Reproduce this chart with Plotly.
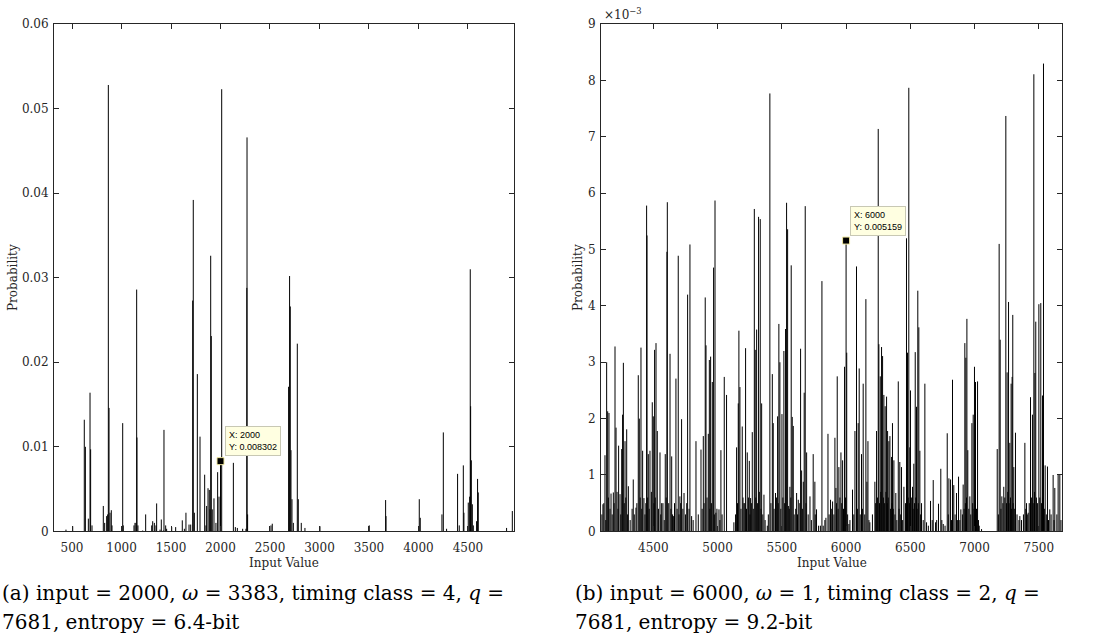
import plotly.graph_objects as go

# ---------------- Data: panel (a) ----------------
a_input = [439, 507, 624, 635, 665, 682, 688, 702, 816, 830, 850, 860, 867, 874, 884, 897, 904,
           1012, 1018, 1126, 1136, 1146, 1153, 1156, 1166, 1214, 1244, 1305, 1315, 1332, 1348, 1355,
           1389, 1402, 1422, 1429, 1446, 1456, 1507, 1547, 1614, 1635, 1651, 1682, 1699, 1719, 1725,
           1736, 1766, 1793, 1840, 1853, 1860, 1874, 1887, 1894, 1901, 1907, 1917, 1934, 1954, 1971,
           1985, 2000, 2012, 2130, 2150, 2170, 2224, 2257, 2266, 2268, 2274, 2510, 2523, 2688, 2698,
           2705, 2712, 2722, 2736, 2776, 2786, 2816, 2853, 3005, 3503, 3668, 3672, 4008, 4018, 4237,
           4251, 4284, 4395, 4412, 4453, 4459, 4503, 4517, 4523, 4527, 4534, 4544, 4554, 4587, 4597,
           4604, 4890, 4948]
a_prob = [0.0002, 0.0006, 0.0132, 0.0100, 0.0015, 0.0164, 0.0097, 0.0007, 0.0030, 0.0010, 0.0018,
          0.0020, 0.0528, 0.0146, 0.0022, 0.0025, 0.0007, 0.0128, 0.0007, 0.0007, 0.0010, 0.0010,
          0.0286, 0.0111, 0.0007, 0.0001, 0.0020, 0.0007, 0.0012, 0.0010, 0.0007, 0.0033, 0.0002,
          0.0014, 0.0001, 0.0120, 0.0007, 0.0003, 0.0005, 0.0005, 0.0013, 0.0003, 0.0022, 0.0008,
          0.0008, 0.0273, 0.0392, 0.0022, 0.0186, 0.0112, 0.0067, 0.0007, 0.0030, 0.0051, 0.0049,
          0.0026, 0.0326, 0.0231, 0.0026, 0.0039, 0.0010, 0.0070, 0.0041, 0.008302, 0.0523, 0.0081,
          0.0005, 0.0004, 0.0003, 0.0003, 0.0288, 0.0466, 0.0020, 0.0007, 0.0009, 0.0171, 0.0302,
          0.0266, 0.0096, 0.0038, 0.0010, 0.0222, 0.0038, 0.0010, 0.0004, 0.0006, 0.0007, 0.0037,
          0.0018, 0.0038, 0.0016, 0.0020, 0.0117, 0.0003, 0.0068, 0.0007, 0.0078, 0.0022, 0.0034,
          0.0041, 0.0310, 0.0148, 0.0084, 0.0032, 0.0007, 0.0012, 0.0062, 0.0046, 0.0004, 0.0024]

# ---------------- Data: panel (b) (probabilities in units of 1e-3) ----------------
b_peak_input = [4108, 4124, 4137, 4145, 4155, 4171, 4189, 4202, 4210, 4230, 4241, 4254, 4261, 4267,
                4280, 4293, 4306, 4344, 4365, 4383, 4391, 4404, 4417, 4427, 4448, 4451, 4461, 4474,
                4492, 4500, 4510, 4521, 4531, 4552, 4565, 4593, 4606, 4609, 4630, 4643, 4656, 4676,
                4694, 4707, 4720, 4739, 4767, 4785, 4798, 4832, 4871, 4889, 4904, 4910, 4928, 4936,
                4946, 4959, 4969, 4980, 4987, 5011, 5026, 5052, 5070, 5127, 5148, 5161, 5166, 5174,
                5192, 5205, 5218, 5231, 5247, 5257, 5270, 5286, 5293, 5304, 5319, 5332, 5343, 5361,
                5387, 5407, 5426, 5433, 5451, 5467, 5477, 5485, 5501, 5516, 5529, 5537, 5545, 5553,
                5563, 5573, 5581, 5589, 5615, 5628, 5646, 5654, 5667, 5674, 5682, 5693, 5719, 5744,
                5757, 5770, 5786, 5812, 5822, 5843, 5859, 5879, 5895, 5913, 5921, 5931, 5944, 5960,
                5973, 5988, 6000, 6005, 6022, 6050, 6069, 6081, 6094, 6102, 6120, 6133, 6154, 6162,
                6170, 6185, 6224, 6237, 6250, 6255, 6266, 6276, 6284, 6294, 6304, 6315, 6323, 6333,
                6341, 6354, 6361, 6372, 6387, 6406, 6418, 6431, 6450, 6470, 6478, 6488, 6496, 6501,
                6517, 6527, 6538, 6548, 6558, 6566, 6574, 6587, 6613, 6626, 6657, 6678, 6696, 6719,
                6737, 6756, 6787, 6800, 6813, 6828, 6838, 6859, 6875, 6893, 6911, 6924, 6932, 6940,
                6947, 6963, 6979, 6989, 6999, 7007, 7023, 7036, 7054, 7176, 7191, 7199, 7212, 7227,
                7243, 7253, 7264, 7274, 7284, 7292, 7297, 7305, 7318, 7352, 7391, 7404, 7417, 7435,
                7450, 7461, 7469, 7476, 7500, 7515, 7528, 7536, 7549, 7567, 7585, 7611, 7624, 7650,
                7663]
b_peak_prob = [0.48, 1.35, 3.00, 2.13, 2.10, 0.67, 0.69, 3.28, 1.84, 1.52, 0.66, 1.46, 2.07, 2.99,
               1.60, 1.81, 0.80, 0.92, 0.42, 2.77, 2.00, 3.26, 1.43, 0.59, 5.78, 5.25, 1.37, 1.43,
               2.29, 2.04, 3.22, 3.34, 1.78, 1.40, 0.50, 1.37, 4.96, 5.84, 3.15, 1.33, 0.27, 2.71,
               4.89, 0.62, 1.99, 0.68, 4.20, 5.09, 0.27, 1.60, 1.45, 1.69, 4.15, 3.30, 1.73, 3.04,
               3.10, 2.65, 4.68, 5.87, 0.33, 0.39, 1.44, 2.74, 2.42, 0.16, 1.49, 2.27, 3.56, 2.56,
               1.86, 0.50, 3.25, 1.40, 1.25, 0.59, 1.76, 5.72, 3.22, 3.58, 5.58, 5.54, 2.27, 0.65,
               0.10, 7.77, 2.79, 1.92, 0.68, 2.04, 3.68, 3.00, 2.08, 3.20, 3.59, 5.83, 5.36, 0.45,
               0.79, 4.72, 2.03, 1.87, 0.68, 0.56, 3.24, 1.08, 0.88, 2.46, 5.77, 1.40, 0.62, 1.37,
               0.88, 0.39, 0.10, 4.44, 0.10, 0.24, 1.73, 0.56, 0.53, 1.66, 0.77, 2.75, 1.14, 1.40,
               1.26, 2.92, 5.159, 3.17, 0.13, 0.74, 1.78, 4.70, 1.92, 2.89, 1.37, 2.62, 4.12, 0.88,
               1.60, 0.16, 0.88, 1.78, 7.14, 3.32, 2.75, 3.27, 3.11, 2.42, 2.22, 2.39, 1.78, 1.60,
               1.69, 1.32, 1.92, 1.26, 0.68, 2.66, 1.23, 1.14, 0.79, 5.20, 3.17, 7.87, 1.49, 2.50,
               0.79, 1.20, 3.18, 2.21, 4.27, 3.62, 1.43, 0.50, 2.62, 0.16, 0.54, 0.91, 0.16, 0.49,
               1.11, 0.13, 1.74, 0.94, 0.92, 2.69, 0.82, 0.68, 0.97, 0.39, 0.83, 3.34, 3.08, 3.77,
               1.44, 0.62, 1.92, 2.07, 2.92, 2.65, 2.66, 0.10, 0.04, 1.46, 5.10, 3.40, 0.62, 0.79,
               7.37, 2.82, 4.07, 1.57, 2.62, 2.74, 3.84, 1.14, 1.75, 0.27, 1.57, 0.50, 0.33, 2.38,
               2.07, 8.11, 2.81, 3.72, 4.03, 4.05, 2.41, 8.30, 1.17, 1.15, 0.39, 1.00, 0.77, 1.00,
               1.00]

b_floor_input = [4100, 4115, 4130, 4150, 4163, 4180, 4195, 4218, 4225, 4247, 4274, 4286, 4300, 4320,
                 4335, 4352, 4372, 4398, 4410, 4435, 4442, 4456, 4468, 4485, 4505, 4515, 4540, 4558,
                 4575, 4585, 4600, 4620, 4637, 4650, 4665, 4685, 4700, 4713, 4730, 4750, 4760, 4778,
                 4810, 4850, 4880, 4895, 4918, 4940, 4952, 4975, 4995, 5018, 5035, 5140, 5155, 5182,
                 5198, 5212, 5225, 5240, 5252, 5265, 5278, 5298, 5310, 5325, 5338, 5352, 5370, 5395,
                 5415, 5440, 5458, 5472, 5492, 5508, 5522, 5558, 5570, 5596, 5608, 5622, 5640, 5660,
                 5688, 5705, 5730, 5760, 5800, 5835, 5868, 5888, 5905, 5926, 5938, 5952, 5966, 5980,
                 5995, 6012, 6030, 6060, 6088, 6110, 6127, 6145, 6178, 6205, 6230, 6244, 6260, 6270,
                 6290, 6300, 6310, 6320, 6328, 6345, 6357, 6367, 6380, 6395, 6412, 6425, 6440, 6462,
                 6483, 6492, 6508, 6522, 6532, 6543, 6553, 6562, 6580, 6600, 6640, 6670, 6705, 6745,
                 6770, 6795, 6820, 6848, 6866, 6885, 6905, 6918, 6928, 6937, 6955, 6970, 6985, 6995,
                 7003, 7015, 7030, 7185, 7205, 7220, 7235, 7248, 7258, 7268, 7279, 7288, 7300, 7312,
                 7330, 7345, 7365, 7380, 7398, 7410, 7425, 7442, 7456, 7466, 7481, 7490, 7507, 7521,
                 7532, 7543, 7558, 7575, 7595, 7618, 7640, 7672]
b_floor_prob = [0.3, 0.5, 0.2, 0.6, 0.4, 0.3, 0.5, 0.7, 0.4, 0.3, 0.5, 0.6, 0.3, 0.2,
                0.4, 0.3, 0.5, 0.6, 0.4, 0.3, 0.5, 0.6, 0.4, 0.7, 0.5, 0.6, 0.4, 0.3,
                0.5, 0.2, 0.6, 0.5, 0.4, 0.3, 0.5, 0.4, 0.3, 0.5, 0.4, 0.3, 0.5, 0.4,
                0.2, 0.3, 0.4, 0.5, 0.6, 0.4, 0.5, 0.3, 0.4, 0.2, 0.3, 0.3, 0.5, 0.4,
                0.6, 0.5, 0.4, 0.6, 0.3, 0.5, 0.4, 0.6, 0.5, 0.7, 0.4, 0.3, 0.2, 0.3,
                0.5, 0.4, 0.6, 0.5, 0.4, 0.6, 0.5, 0.4, 0.6, 0.3, 0.4, 0.3, 0.5, 0.4,
                0.5, 0.3, 0.2, 0.3, 0.1, 0.2, 0.3, 0.4, 0.3, 0.5, 0.4, 0.6, 0.5, 0.4,
                0.6, 0.3, 0.2, 0.3, 0.4, 0.3, 0.4, 0.3, 0.2, 0.3, 0.5, 0.6, 0.5, 0.7,
                0.6, 0.5, 0.7, 0.5, 0.6, 0.4, 0.5, 0.4, 0.3, 0.2, 0.4, 0.3, 0.2, 0.5,
                0.6, 0.5, 0.6, 0.4, 0.5, 0.6, 0.4, 0.5, 0.3, 0.2, 0.1, 0.2, 0.2, 0.2,
                0.1, 0.3, 0.2, 0.3, 0.2, 0.2, 0.3, 0.4, 0.5, 0.6, 0.4, 0.3, 0.5, 0.4,
                0.3, 0.4, 0.2, 0.3, 0.4, 0.5, 0.6, 0.5, 0.7, 0.5, 0.6, 0.4, 0.5, 0.4,
                0.3, 0.2, 0.2, 0.3, 0.4, 0.3, 0.5, 0.6, 0.5, 0.7, 0.6, 0.5, 0.6, 0.5,
                0.6, 0.4, 0.3, 0.2, 0.3, 0.2, 0.3, 0.2]

a_tip = (2000, 0.008302)
b_tip = (6000, 0.005159)

a_xticks = [500, 1000, 1500, 2000, 2500, 3000, 3500, 4000, 4500]
a_yticks = [0, 0.01, 0.02, 0.03, 0.04, 0.05, 0.06]
a_yticklabels = ["0", "0.01", "0.02", "0.03", "0.04", "0.05", "0.06"]
b_xticks = [4500, 5000, 5500, 6000, 6500, 7000, 7500]
b_yticks = [0, 1, 2, 3, 4, 5, 6, 7, 8, 9]
b_yticklabels = ["0", "1", "2", "3", "4", "5", "6", "7", "8", "9"]

caption_a = ["(a) input = 2000, <i>ω</i> = 3383, timing class = 4, <i>q</i> =",
             "7681, entropy = 6.4-bit"]
caption_b = ["(b) input = 6000, <i>ω</i> = 1, timing class = 2, <i>q</i> =",
             "7681, entropy = 9.2-bit"]

# ---------------- Figure ----------------
W, H = 1099, 643
SERIF = "DejaVu Serif"
AXC = "#262626"


def stems(xs, ys, scale=1.0):
    sx, sy = [], []
    for x, y in zip(xs, ys):
        sx += [x, x, None]
        sy += [0, y * scale, None]
    return sx, sy


fig = go.Figure()

ax, ay = stems(a_input, a_prob)
fig.add_trace(go.Scatter(x=ax, y=ay, mode="lines", line=dict(color="black", width=1),
                         xaxis="x", yaxis="y", hoverinfo="skip"))

bx, by = stems(b_floor_input + b_peak_input, b_floor_prob + b_peak_prob, 1e-3)
fig.add_trace(go.Scatter(x=bx, y=by, mode="lines", line=dict(color="black", width=1),
                         xaxis="x2", yaxis="y2", hoverinfo="skip"))

# data-tip markers
for tip, xr, yr in [(a_tip, "x", "y"), (b_tip, "x2", "y2")]:
    fig.add_trace(go.Scatter(x=[tip[0]], y=[tip[1]], mode="markers",
                             marker=dict(symbol="square", size=7, color="black",
                                         line=dict(color="#f0e8a0", width=1)),
                             xaxis=xr, yaxis=yr))

ydom = [1 - 536 / H, 1 - 17.5 / H]
common_axis = dict(showline=True, linecolor=AXC, linewidth=1, mirror="ticks", ticks="inside",
                   ticklen=5, tickcolor=AXC, showgrid=False, zeroline=False,
                   tickfont=dict(family=SERIF, size=12, color=AXC))

fig.update_layout(
    width=W, height=H, margin=dict(l=0, r=0, t=0, b=0),
    paper_bgcolor="white", plot_bgcolor="white", showlegend=False,
    xaxis=dict(domain=[54 / W, 514 / W], range=[318, 4965], tickvals=a_xticks, anchor="y",
               ticklabelstandoff=5, **common_axis),
    yaxis=dict(domain=ydom, range=[0, 0.06], tickvals=a_yticks, ticktext=a_yticklabels,
               anchor="x", ticklabelstandoff=2, **common_axis),
    xaxis2=dict(domain=[601 / W, 1062 / W], range=[4093, 7680], tickvals=b_xticks, anchor="y2",
                ticklabelstandoff=5, **common_axis),
    yaxis2=dict(domain=ydom, range=[0, 0.009], tickvals=[v * 1e-3 for v in b_yticks],
                ticktext=b_yticklabels, anchor="x2", ticklabelstandoff=2, **common_axis),
)

ann = []
# data tips
for tip, xr, yr in [(a_tip, "x", "y"), (b_tip, "x2", "y2")]:
    ann.append(dict(x=tip[0], y=tip[1], xref=xr, yref=yr, showarrow=False,
                    text="X: %d<br>Y: %s" % (tip[0], ("%.6f" % tip[1]).rstrip("0")),
                    xanchor="left", yanchor="bottom", xshift=4, yshift=5, align="left",
                    font=dict(family="Liberation Sans", size=9, color="black"),
                    bgcolor="#ffffe1", bordercolor="#c8c8b4", borderwidth=1, borderpad=3))
# axis titles
for xc in [(54 + 514) / 2 / W, (601 + 1062) / 2 / W]:
    ann.append(dict(x=xc, y=1 - 568 / H, xref="paper", yref="paper", showarrow=False,
                    xanchor="center", yanchor="middle",
                    text="Input Value", font=dict(family=SERIF, size=12, color=AXC)))
for xc in [13 / W, 578 / W]:
    ann.append(dict(x=xc, y=1 - 277 / H, xref="paper", yref="paper", showarrow=False,
                    xanchor="center", yanchor="middle",
                    text="Probability", textangle=-90,
                    font=dict(family=SERIF, size=12, color=AXC)))
# exponent label
ann.append(dict(x=602 / W, y=1 - 7 / H, xref="paper", yref="paper", showarrow=False,
                xanchor="left", yanchor="middle", text="×10<sup>−3</sup>",
                font=dict(family=SERIF, size=12, color=AXC)))
# captions
for x0, lines in [(0, caption_a), (573, caption_b)]:
    for i, line in enumerate(lines):
        ann.append(dict(x=x0 / W, y=1 - (599 + 30 * i) / H, xref="paper", yref="paper",
                        showarrow=False, xanchor="left", yanchor="middle", text=line,
                        font=dict(family=SERIF, size=20, color="black")))
fig.update_layout(annotations=ann)

fig.write_html("out.html")
